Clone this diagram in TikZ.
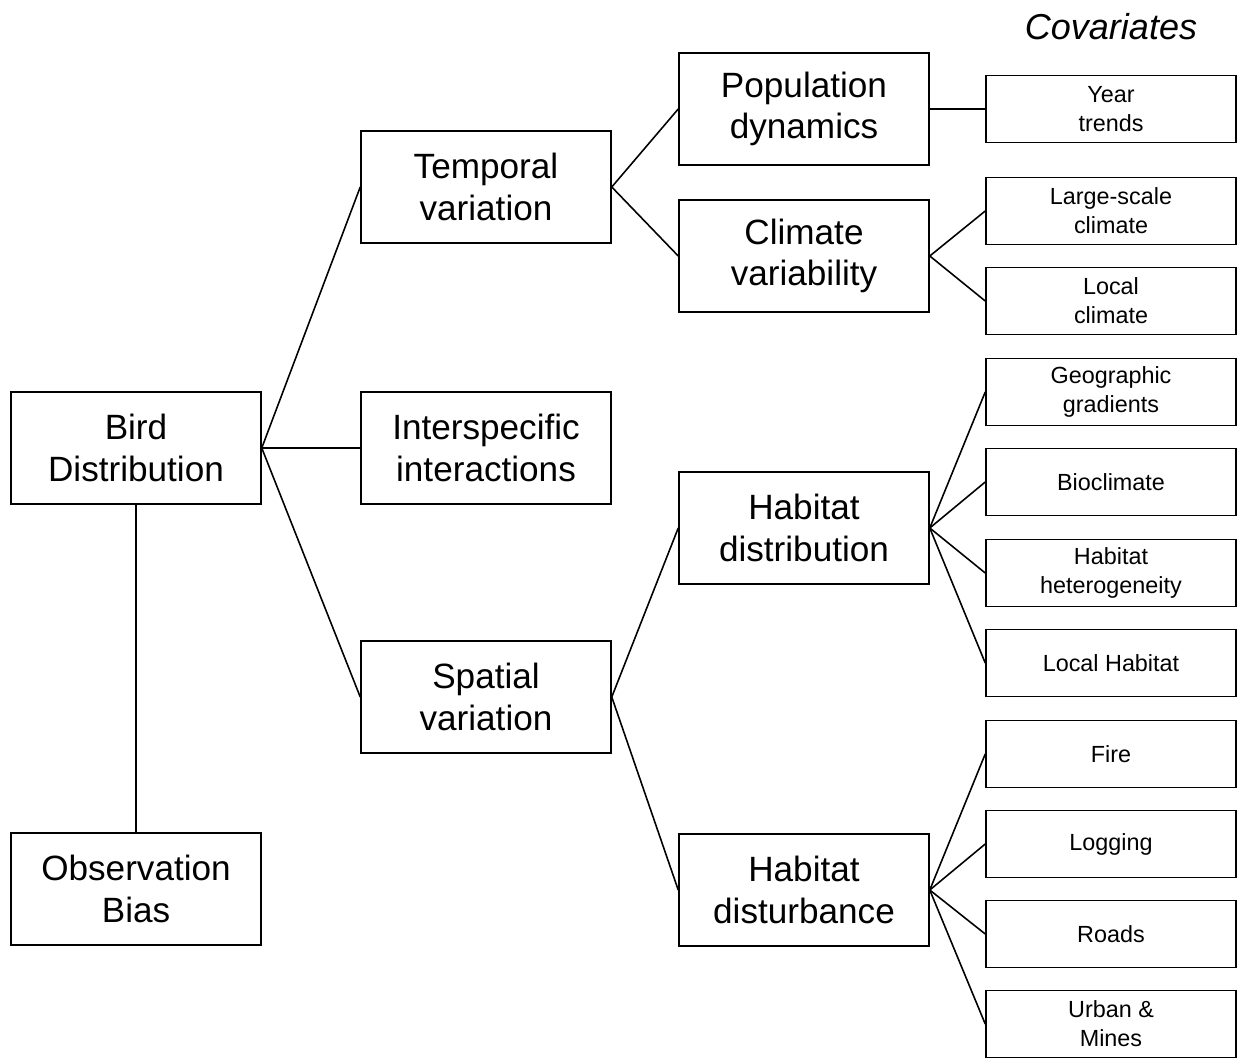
\documentclass[tikz,border=0pt]{standalone}
\usepackage{fontspec}
\setmainfont{Liberation Sans}
\usepackage{xcolor}
\usepackage{tikz}

\begin{document}
\begin{tikzpicture}[x=0.02cm, y=-0.02cm, line width=0.9pt,
    bigbox/.style={rectangle, draw, align=center, minimum width=5cm, minimum height=2.24cm, inner sep=0pt, font=\fontsize{20}{23.5}\selectfont},
    covbox/.style={rectangle, draw, align=center, minimum width=5cm, minimum height=1.34cm, inner sep=0pt, font=\fontsize{13.3}{16.5}\selectfont}]
    \useasboundingbox (0,0) rectangle (1238,1061);

    % Heading
    \node (cov) at (1111,27) {\fontsize{20.5}{24}\selectfont\itshape Covariates};

    % Root
    \node (bird) [bigbox] at (136,448) {Bird\\Distribution};
    \node (bias) [bigbox] at (136,889) {Observation\\Bias};

    % Variation
    \node (temporal) [bigbox] at (486,187) {Temporal\\variation};
    \node (inter) [bigbox] at (486,448) {Interspecific\\interactions};
    \node (spatial) [bigbox] at (486,697) {Spatial\\variation};

    % Processes
    \node (popdyn) [bigbox] at (804,109) {Population\\dynamics};
    \node (climvar) [bigbox] at (804,256) {Climate\\variability};
    \node (habdist) [bigbox] at (804,528) {Habitat\\distribution};
    \node (habdist2) [bigbox] at (804,890) {Habitat\\disturbance};

    % Covariates
    \node (year) [covbox] at (1111,109) {Year\\trends};
    \node (largeclim) [covbox] at (1111,211) {Large-scale\\climate};
    \node (localclim) [covbox] at (1111,301) {Local\\climate};
    \node (geo) [covbox] at (1111,392) {Geographic\\gradients};
    \node (bioclim) [covbox] at (1111,482) {Bioclimate};
    \node (hetero) [covbox] at (1111,573) {Habitat\\heterogeneity};
    \node (localhab) [covbox] at (1111,663) {Local Habitat};
    \node (fire) [covbox] at (1111,754) {Fire};
    \node (logging) [covbox] at (1111,844) {Logging};
    \node (roads) [covbox] at (1111,934) {Roads};
    \node (urban) [covbox] at (1111,1024) {Urban \&\\Mines};

    % Lines
    \draw (bird) -- (bias);
    \draw (bird.east) -- (temporal.west);
    \draw (bird.east) -- (inter.west);
    \draw (bird.east) -- (spatial.west);
    \draw (temporal.east) -- (popdyn.west);
    \draw (temporal.east) -- (climvar.west);
    \draw (spatial.east) -- (habdist.west);
    \draw (spatial.east) -- (habdist2.west);
    \draw (popdyn.east) -- (year.west);
    \draw (climvar.east) -- (largeclim.west);
    \draw (climvar.east) -- (localclim.west);
    \draw (habdist.east) -- (geo.west);
    \draw (habdist.east) -- (bioclim.west);
    \draw (habdist.east) -- (hetero.west);
    \draw (habdist.east) -- (localhab.west);
    \draw (habdist2.east) -- (fire.west);
    \draw (habdist2.east) -- (logging.west);
    \draw (habdist2.east) -- (roads.west);
    \draw (habdist2.east) -- (urban.west);
\end{tikzpicture}
\end{document}
